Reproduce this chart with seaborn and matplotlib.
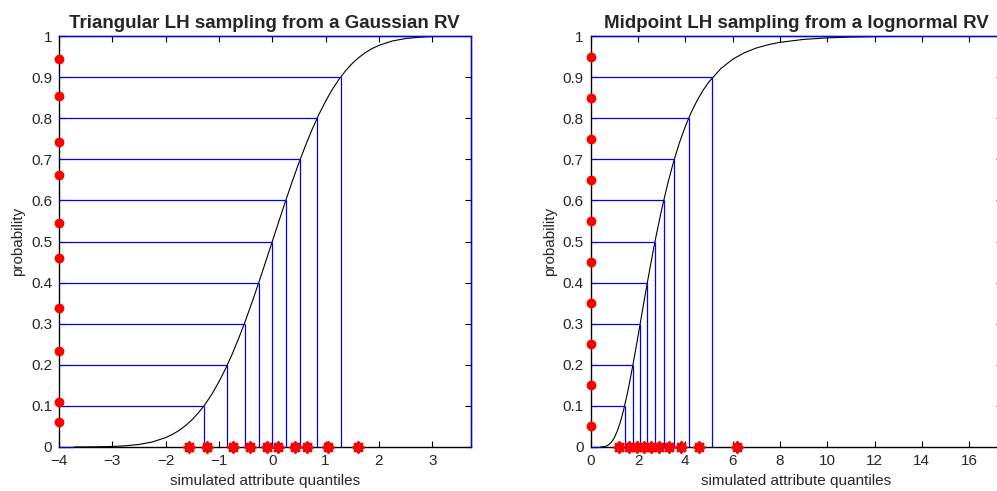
import numpy as np
import pandas as pd
import matplotlib
matplotlib.use("Agg")
import matplotlib.pyplot as plt
import seaborn as sns

# ---------------- data ----------------
# Left panel: Gaussian CDF
gauss_curve_x = [-3.72, -3.5, -3.25, -3.0, -2.75, -2.5, -2.25, -2.0, -1.875, -1.75, -1.625,
                 -1.5, -1.375, -1.25, -1.125, -1.0, -0.875, -0.75, -0.625, -0.5, -0.375,
                 -0.25, -0.125, 0.0, 0.125, 0.25, 0.375, 0.5, 0.625, 0.75, 0.875, 1.0,
                 1.125, 1.25, 1.375, 1.5, 1.625, 1.75, 1.875, 2.0, 2.25, 2.5, 2.75, 3.0,
                 3.25, 3.5, 3.72]
gauss_curve_p = [0.0001, 0.0002, 0.0006, 0.0013, 0.0030, 0.0062, 0.0122, 0.0228, 0.0304,
                 0.0401, 0.0521, 0.0668, 0.0846, 0.1056, 0.1303, 0.1587, 0.1908, 0.2266,
                 0.2660, 0.3085, 0.3538, 0.4013, 0.4503, 0.5, 0.5497, 0.5987, 0.6462,
                 0.6915, 0.7340, 0.7734, 0.8092, 0.8413, 0.8697, 0.8944, 0.9154, 0.9332,
                 0.9479, 0.9599, 0.9696, 0.9772, 0.9878, 0.9938, 0.9970, 0.9987, 0.9994,
                 0.9998, 0.9999]
# stratum boundaries (probability level, quantile)
gauss_edge_p = [0.0001, 0.1, 0.2, 0.3, 0.4, 0.5, 0.6, 0.7, 0.8, 0.9, 0.9999]
gauss_edge_x = [-3.72, -1.28, -0.84, -0.52, -0.25, 0.0, 0.25, 0.52, 0.84, 1.28, 3.72]
# sampled probabilities (red dots) and simulated quantiles (red stars)
gauss_sample_p = [0.060, 0.110, 0.234, 0.337, 0.460, 0.546, 0.663, 0.743, 0.854, 0.945]
gauss_sample_x = [-1.56, -1.23, -0.73, -0.42, -0.10, 0.11, 0.42, 0.65, 1.05, 1.60]

# Right panel: lognormal CDF
logn_curve_x = [0.42, 0.5, 0.625, 0.75, 0.875, 1.0, 1.125, 1.25, 1.375, 1.5, 1.625, 1.75,
                1.875, 2.0, 2.125, 2.25, 2.375, 2.5, 2.625, 2.75, 3.0, 3.25, 3.5, 3.75,
                4.0, 4.25, 4.5, 4.75, 5.0, 5.5, 6.0, 6.5, 7.0, 7.5, 8.0, 9.0, 10.0, 11.0,
                12.0, 14.0, 17.4]
logn_curve_p = [0.0001, 0.00035, 0.0016, 0.0050, 0.0117, 0.0228, 0.0389, 0.0601, 0.0864,
                0.1172, 0.1517, 0.1892, 0.2288, 0.2697, 0.3112, 0.3527, 0.3936, 0.4337,
                0.4722, 0.5093, 0.5781, 0.6396, 0.6934, 0.7401, 0.7801, 0.8143, 0.8433,
                0.8678, 0.8886, 0.9206, 0.9434, 0.9594, 0.9707, 0.9788, 0.9846, 0.9917,
                0.9954, 0.9974, 0.9985, 0.9995, 0.9999]
logn_edge_p = [0.0001, 0.1, 0.2, 0.3, 0.4, 0.5, 0.6, 0.7, 0.8, 0.9, 0.9999]
logn_edge_x = [0.42, 1.43, 1.78, 2.09, 2.40, 2.72, 3.08, 3.53, 4.14, 5.13, 17.4]
logn_sample_p = [0.05, 0.15, 0.25, 0.35, 0.45, 0.55, 0.65, 0.75, 0.85, 0.95]
logn_sample_x = [1.19, 1.62, 1.94, 2.24, 2.55, 2.90, 3.30, 3.81, 4.56, 6.19]

left_xticks = [-4, -3, -2, -1, 0, 1, 2, 3]
right_xticks = [0, 2, 4, 6, 8, 10, 12, 14, 16]
yticks = [0, 0.1, 0.2, 0.3, 0.4, 0.5, 0.6, 0.7, 0.8, 0.9, 1]
ytick_labels = ["0", "0.1", "0.2", "0.3", "0.4", "0.5", "0.6", "0.7", "0.8", "0.9", "1"]

titles = ["Triangular LH sampling from a Gaussian RV",
          "Midpoint LH sampling from a lognormal RV"]
xlabel = "simulated attribute quantiles"
ylabel = "probability"

# ---------------- styling ----------------
sns.set_theme(style="white")
plt.rcParams["font.family"] = ["Liberation Sans", "DejaVu Sans"]
plt.rcParams["xtick.direction"] = "in"
plt.rcParams["ytick.direction"] = "in"

W, H = 997, 491
fig = plt.figure(figsize=(W / 100, H / 100), dpi=100)
fig.patch.set_facecolor("white")

ax_h = (447 - 36) / H
ax_b = (H - 447) / H
ax_w = 411.6 / W
axL = fig.add_axes([59 / W, ax_b, ax_w, ax_h])
axR = fig.add_axes([590.7 / W, ax_b, ax_w, ax_h])

BLUE = "#0000FF"
RED = "#FF0000"
star = (8, 2, 0)


def draw_panel(ax, cx, cp, ex, ep, sp, sx, xmin, xmax, xticks, title):
    ax.set_facecolor("white")
    curve = pd.DataFrame({"x": cx, "p": cp})
    sns.lineplot(data=curve, x="x", y="p", ax=ax, color="black", lw=0.8,
                 sort=False, estimator=None, zorder=3)
    # stratum lines: horizontal from left edge to curve, vertical down to zero
    ax.hlines(ep, xmin, ex, colors=BLUE, lw=0.9, zorder=4, clip_on=False)
    ax.vlines(ex, 0, ep, colors=BLUE, lw=0.9, zorder=4, clip_on=False)
    dots = pd.DataFrame({"x": [xmin] * len(sp), "p": sp})
    sns.scatterplot(data=dots, x="x", y="p", ax=ax, color=RED, s=50,
                    edgecolor=RED, linewidth=0, zorder=6, clip_on=False)
    stars = pd.DataFrame({"x": sx, "p": [0] * len(sx)})
    sns.scatterplot(data=stars, x="x", y="p", ax=ax, color=RED, marker=star,
                    s=45, edgecolor=RED, linewidth=2.2, zorder=6, clip_on=False)
    ax.set_xlim(xmin, xmax)
    ax.set_ylim(0, 1)
    ax.set_xticks(xticks)
    ax.set_xticklabels([("\u2212" + str(abs(t))) if t < 0 else str(t) for t in xticks])
    ax.set_yticks(yticks)
    ax.set_yticklabels(ytick_labels)
    ax.tick_params(axis="both", which="both", direction="in", length=4, width=0.8,
                   color="black", labelsize=11, top=True, right=True,
                   bottom=True, left=True, pad=5)
    for s in ax.spines.values():
        s.set_visible(True)
        s.set_color("black")
        s.set_linewidth(1.0)
        s.set_zorder(2)
    ax.set_title(title, fontsize=13.5, fontweight="bold", pad=6)
    ax.set_xlabel(xlabel, fontsize=11, labelpad=4)
    ax.set_ylabel(ylabel, fontsize=11, labelpad=4)
    ax.grid(False)


draw_panel(axL, gauss_curve_x, gauss_curve_p, gauss_edge_x, gauss_edge_p,
           gauss_sample_p, gauss_sample_x, -4, 3.72, left_xticks, titles[0])
draw_panel(axR, logn_curve_x, logn_curve_p, logn_edge_x, logn_edge_p,
           logn_sample_p, logn_sample_x, 0, 17.4, right_xticks, titles[1])

fig.savefig("out.png", dpi=100)
